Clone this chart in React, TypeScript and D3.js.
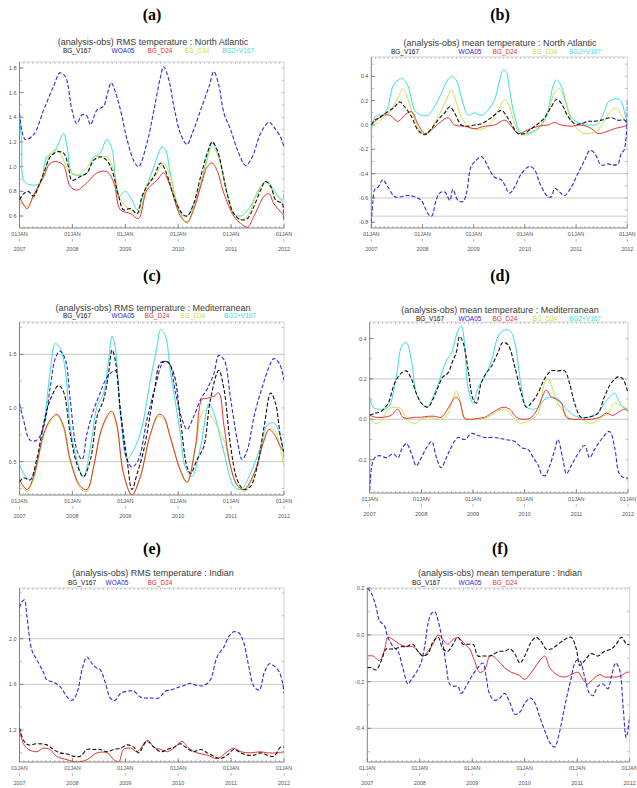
import React from "react";
import * as d3 from "d3";

type Pt = [number, number];

// Time axis: months since the first tick, one tick per year
const monthTicks = [0, 12, 24, 36, 48, 60];
const dateLabels = ["01JAN", "01JAN", "01JAN", "01JAN", "01JAN", "01JAN"];
const yearLabels = ["2007", "2008", "2009", "2010", "2011", "2012"];

const seriesNames = ["BG_V167", "WOA05", "BG_D24", "BG_D34", "BG2+V167"];

// ---- North Atlantic, RMS ----
const naRmsV167: Pt[] = [[0,0.73],[0.9,0.78],[2,0.80],[3.2,0.76],[4.3,0.84],[5.5,0.95],[7,1.08],[8.5,1.12],[10,1.11],[11.1,1.0],[11.9,0.89],[13.8,0.92],[15.3,0.95],[16.8,1.05],[18.3,1.08],[19.8,1.05],[21,0.97],[22.5,0.76],[23.6,0.65],[25.2,0.66],[26.7,0.62],[27.8,0.76],[28.9,0.84],[30.5,0.92],[32,1.03],[32.7,1.0],[33.9,0.89],[35,0.76],[36.9,0.62],[38,0.60],[39.5,0.70],[41.1,0.92],[42.6,1.11],[43.7,1.20],[44.8,1.14],[46,0.97],[47.1,0.78],[48.6,0.62],[50.2,0.57],[51.7,0.58],[53.2,0.68],[54.7,0.81],[55.8,0.88],[57,0.84],[58.1,0.73],[59.6,0.70],[60,0.57]];
const naRmsWoa: Pt[] = [[0,1.43],[1.3,1.22],[3.2,1.26],[5.5,1.46],[7.7,1.65],[9.2,1.76],[10.4,1.73],[11.9,1.46],[13,1.35],[14.2,1.42],[15.3,1.41],[16.1,1.34],[17.6,1.46],[19.1,1.49],[19.8,1.57],[20.8,1.68],[21.7,1.61],[22.9,1.46],[24.4,1.22],[25.9,1.05],[27,1.0],[28.9,1.19],[30.5,1.46],[32,1.73],[32.7,1.81],[33.9,1.70],[35,1.49],[36.5,1.27],[38,1.18],[39.2,1.27],[41.1,1.46],[43,1.65],[44.1,1.77],[45.2,1.66],[46.4,1.43],[47.9,1.30],[49.4,1.14],[51.3,1.01],[52.8,1.08],[54.7,1.27],[56.6,1.36],[57.7,1.32],[59.2,1.24],[60,1.16]];
const naRmsD24: Pt[] = [[0,0.76],[1.7,0.66],[3.2,0.77],[5.5,0.92],[7,1.03],[8.5,1.04],[10,1.01],[11.5,0.84],[13,0.81],[15.3,0.87],[17.6,0.95],[19.8,0.96],[21.4,0.87],[22.9,0.65],[25.2,0.62],[27,0.58],[28.9,0.81],[31.2,0.89],[32.7,0.95],[34.2,0.84],[36.5,0.60],[38,0.55],[39.5,0.65],[41.1,0.84],[42.6,1.0],[43.7,1.03],[44.8,0.97],[46.4,0.78],[48.6,0.60],[50.2,0.54],[51.7,0.51],[53.2,0.60],[55.5,0.76],[56.6,0.78],[57.7,0.70],[59.6,0.62],[60,0.60]];
const naRmsD34: Pt[] = [[0,0.73],[1.7,0.68],[3.2,0.76],[5.5,0.92],[7,1.11],[8.5,1.14],[9.6,1.08],[11.5,0.95],[13,0.93],[15.3,0.99],[16.8,1.08],[18.3,1.08],[19.8,1.08],[21.4,0.97],[22.9,0.73],[25.2,0.65],[27,0.62],[28.9,0.85],[31.2,0.95],[32.7,1.03],[34.2,0.92],[36.5,0.62],[38,0.54],[39.5,0.68],[41.8,0.95],[43.7,1.16],[44.8,1.11],[46.4,0.89],[48.6,0.62],[50.2,0.57],[51.7,0.60],[53.9,0.78],[55.8,0.88],[57.3,0.81],[59.2,0.73],[60,0.70]];
const naRmsV2: Pt[] = [[0,1.43],[0.5,1.19],[1.1,0.88],[3.2,0.85],[4.7,0.87],[6.2,1.08],[7.7,1.11],[8.9,1.19],[10,1.27],[10.8,1.16],[11.9,0.95],[13.8,0.93],[15.3,0.95],[16.8,1.07],[18.3,1.11],[19.8,1.22],[21,1.14],[22.5,0.76],[24,0.80],[25.5,0.73],[26.7,0.65],[28.2,0.78],[30.5,1.0],[32.3,1.16],[33.1,1.14],[34.2,0.95],[36.5,0.62],[38,0.60],[40.3,0.76],[42.6,1.08],[43.7,1.19],[45.2,1.08],[47.1,0.78],[48.6,0.62],[50.2,0.60],[52.4,0.68],[54.7,0.84],[56.2,0.88],[57.7,0.81],[59.6,0.73],[60,0.78]];

// ---- North Atlantic, mean ----
const naMeanV167: Pt[] = [[0,0],[0.8,0.04],[2,0.06],[3.5,0.10],[5.5,0.15],[6.6,0.19],[7.8,0.15],[9.4,0.07],[10.9,-0.04],[12.5,-0.08],[14.1,-0.03],[15.6,0.04],[17.2,0.10],[18.4,0.15],[19.5,0.10],[21.1,0],[22.7,-0.01],[24.2,0],[25.8,0.01],[28.1,0.06],[30.5,0.12],[31.6,0.08],[32.8,0.01],[34.4,-0.07],[35.9,-0.07],[37.5,-0.03],[39.1,0.01],[40.6,0.06],[42.2,0.15],[43.4,0.21],[44.5,0.18],[46.1,0.07],[47.7,0.01],[49.2,0.01],[50.8,0.03],[52.3,0.03],[53.9,0.04],[56.3,0.06],[57.8,0.04],[59.4,0.04],[60,0]];
const naMeanWoa: Pt[] = [[0,-0.80],[0.4,-0.62],[0.8,-0.53],[1.6,-0.51],[2.7,-0.45],[3.9,-0.51],[5.5,-0.59],[7,-0.59],[8.6,-0.58],[10.2,-0.59],[11.7,-0.62],[13.3,-0.73],[14.1,-0.75],[15.2,-0.62],[16,-0.56],[17.2,-0.55],[18.4,-0.62],[19.1,-0.53],[20.3,-0.62],[21.5,-0.63],[22.3,-0.56],[23.4,-0.34],[24.6,-0.29],[25.8,-0.26],[26.6,-0.29],[27.3,-0.34],[28.9,-0.43],[30.5,-0.45],[32.4,-0.56],[33.6,-0.51],[35.2,-0.40],[37.1,-0.34],[38.3,-0.37],[39.5,-0.48],[41.4,-0.59],[42.2,-0.59],[43,-0.52],[44.1,-0.55],[45.3,-0.58],[46.9,-0.51],[48.4,-0.40],[50,-0.29],[51.2,-0.21],[52.3,-0.23],[53.9,-0.33],[55.5,-0.32],[56.6,-0.33],[57.8,-0.32],[58.6,-0.23],[59.2,-0.21],[59.8,-0.07],[60,0.2]];
const naMeanD24: Pt[] = [[0,0],[1.2,0.04],[2.7,0.08],[4.3,0.08],[6.3,0.03],[7.8,0.08],[9.4,0.11],[10.9,0.01],[12.5,-0.07],[14.1,-0.04],[16.4,0.03],[18,0.06],[19.5,0],[21.9,-0.01],[24.2,-0.03],[26.6,-0.01],[28.9,0],[31.3,0.04],[32.8,-0.01],[34.4,-0.07],[36.7,-0.04],[39.1,-0.01],[41.4,0],[43,0.02],[44.5,0],[46.9,-0.01],[49.2,0],[51.6,-0.03],[53.1,-0.07],[54.7,-0.06],[57,-0.03],[59.4,-0.01],[60,0]];
const naMeanD34: Pt[] = [[0,0],[1.2,0.01],[3.1,0.07],[4.7,0.12],[6.3,0.23],[7.4,0.30],[8.6,0.21],[10.2,0.04],[11.7,-0.06],[13.3,-0.07],[14.8,0.01],[16.4,0.12],[17.9,0.23],[18.8,0.29],[19.5,0.23],[21.1,0.07],[22.7,-0.01],[25,-0.04],[27.3,-0.01],[29.7,0.12],[31.3,0.21],[32.4,0.15],[33.6,0.01],[35.2,-0.08],[37.5,-0.07],[39.8,-0.01],[41.4,0.10],[43,0.27],[44.1,0.30],[45.3,0.21],[46.9,0.04],[49.2,-0.06],[50.8,-0.07],[53.1,-0.04],[54.7,0.04],[56.3,0.12],[57.4,0.14],[58.6,0.08],[60,0.01]];
const naMeanV2: Pt[] = [[0,-0.21],[0.2,-0.01],[1.2,0.08],[2.7,0.08],[3.9,0.15],[5.1,0.32],[6.3,0.37],[7.4,0.38],[8.6,0.32],[10.2,0.12],[11.7,0.08],[13.3,0.08],[14.8,0.15],[16.4,0.26],[17.9,0.37],[18.8,0.40],[19.9,0.37],[21.1,0.23],[22.7,0.08],[24.2,0.10],[25.8,0.08],[27.3,0.12],[28.9,0.21],[30.1,0.37],[30.9,0.45],[31.6,0.44],[32.4,0.29],[33.6,0.07],[35.2,-0.07],[37.5,-0.06],[39.8,0],[41.4,0.12],[42.6,0.32],[43.4,0.37],[44.5,0.32],[45.7,0.18],[46.9,0.06],[49.2,0.01],[50.8,0],[53.1,0.01],[54.7,0.12],[55.5,0.19],[56.6,0.21],[58.2,0.21],[59.4,0.10],[60,0]];

// ---- Mediterranean, RMS ----
const medRmsV167: Pt[] = [[0,0.31],[0.9,0.35],[2.4,0.33],[3.9,0.52],[5.5,0.86],[7,1.08],[8.9,1.21],[10,1.15],[11.5,0.76],[13,0.48],[14.5,0.36],[16.1,0.52],[17.6,0.92],[19.1,1.08],[20.2,1.32],[21,1.54],[21.7,1.45],[22.9,0.98],[24.4,0.52],[25.5,0.24],[26.7,0.39],[28.2,0.61],[30.5,1.14],[32,1.42],[33.5,1.43],[35,1.32],[36.5,0.89],[38,0.45],[38.8,0.39],[40.3,0.52],[41.8,0.64],[43.3,1.08],[45.2,1.35],[46.4,1.17],[47.9,0.64],[49.4,0.33],[50.9,0.24],[52.4,0.27],[53.9,0.45],[55.5,0.83],[57,1.14],[58.1,1.04],[59.2,0.73],[60,0.59]];
const medRmsWoa: Pt[] = [[0,1.04],[0.9,0.89],[2.4,0.70],[3.9,0.70],[5.5,0.83],[7,1.20],[8.1,1.46],[9.2,1.53],[10.4,1.45],[11.5,1.08],[13,0.61],[14.2,0.52],[15.3,0.76],[16.8,0.98],[18.3,1.14],[19.5,1.26],[20.6,1.32],[21.7,1.35],[22.9,0.95],[24.4,0.52],[25.5,0.45],[27,0.52],[28.9,0.89],[30.8,1.20],[32.7,1.43],[33.9,1.42],[35.4,1.14],[36.9,0.89],[38,0.80],[39.5,0.92],[41.1,1.08],[42.6,1.18],[44.1,1.32],[45.2,1.49],[46.4,1.45],[47.9,1.08],[49.4,0.70],[50.5,0.52],[51.7,0.61],[53.2,0.92],[55.1,1.20],[57,1.42],[57.7,1.46],[58.9,1.42],[60,1.26]];
const medRmsD24: Pt[] = [[0,0.33],[1.7,0.24],[3.2,0.36],[5.5,0.76],[7,0.89],[8.5,0.94],[10,0.83],[11.5,0.52],[13.8,0.27],[15.3,0.24],[16.8,0.45],[18.3,0.76],[19.8,0.92],[20.9,0.97],[22,0.86],[23.6,0.39],[25.5,0.19],[27.4,0.36],[29.7,0.76],[31.6,0.94],[32.7,0.92],[34.2,0.73],[36.5,0.42],[38,0.31],[39.9,0.64],[41.4,1.08],[42.5,1.09],[44.1,1.11],[45.2,1.14],[46.4,0.83],[47.9,0.45],[49.4,0.28],[50.9,0.24],[53.2,0.39],[55.5,0.70],[56.6,0.80],[57.7,0.76],[59.2,0.64],[60,0.59]];
const medRmsD34: Pt[] = [[0,0.30],[1.7,0.22],[3.2,0.34],[5.5,0.75],[7,0.87],[8.5,0.93],[10,0.80],[11.5,0.50],[13.8,0.25],[15.3,0.22],[16.8,0.44],[18.3,0.75],[19.8,0.90],[20.9,0.95],[22,0.84],[23.6,0.38],[25.5,0.19],[27.4,0.35],[29.7,0.75],[31.6,0.92],[32.7,0.90],[34.2,0.72],[36.5,0.41],[38,0.30],[39.9,0.62],[41.4,0.95],[42.5,0.98],[44.1,0.88],[45.2,0.80],[46.4,0.70],[47.9,0.45],[49.4,0.27],[50.9,0.22],[53.2,0.38],[55.5,0.72],[56.6,0.80],[57.7,0.80],[59.2,0.62],[60,0.45]];
const medRmsV2: Pt[] = [[0,0.48],[0.9,0.39],[2.4,0.33],[3.9,0.48],[5.5,0.83],[7,1.35],[8.1,1.60],[9.2,1.56],[10.4,1.35],[11.5,0.83],[13,0.52],[14.5,0.35],[16.1,0.64],[17.6,1.01],[19.1,1.14],[20.2,1.45],[21,1.67],[21.7,1.57],[22.9,0.95],[24.4,0.52],[25.5,0.58],[27.4,0.76],[29.7,1.26],[31.2,1.57],[32,1.73],[33.1,1.67],[34.2,1.35],[36.5,0.76],[37.6,0.45],[39.1,0.36],[41.1,0.64],[43,1.04],[44.1,0.95],[46.4,0.58],[48.6,0.27],[50.2,0.24],[52.4,0.39],[54.7,0.64],[56.2,0.84],[57.7,0.86],[59.2,0.73],[60,0.52]];

// ---- Mediterranean, mean ----
const medMeanV167: Pt[] = [[0,0.02],[1.2,0.03],[2.7,0.04],[4.3,0.08],[5.8,0.18],[7.4,0.23],[8.5,0.24],[9.7,0.20],[10.8,0.13],[12,0.08],[13.5,0.06],[14.7,0.10],[15.9,0.16],[17,0.21],[18.2,0.23],[19.3,0.29],[20.1,0.33],[20.9,0.41],[21.7,0.38],[22.9,0.24],[24,0.10],[24.8,0.08],[25.9,0.18],[27.1,0.23],[28.2,0.26],[29.8,0.33],[30.9,0.38],[32.1,0.37],[33.7,0.26],[35.2,0.13],[36.4,0.06],[37.5,0.08],[39.1,0.13],[40.6,0.20],[42.2,0.24],[43.7,0.24],[45.3,0.24],[46.4,0.18],[47.6,0.08],[49.1,0.01],[50.7,0.01],[53,0.03],[54.5,0.11],[56.1,0.18],[57.7,0.21],[58.8,0.20],[60,0.13]];
const medMeanWoa: Pt[] = [[0,-0.35],[0.5,-0.23],[1.2,-0.19],[2.3,-0.18],[3.9,-0.19],[5.4,-0.17],[6.6,-0.19],[7.4,-0.15],[8.5,-0.12],[9.7,-0.17],[10.8,-0.23],[12,-0.19],[13.2,-0.14],[14.4,-0.11],[15.5,-0.19],[16.6,-0.24],[17.8,-0.19],[18.9,-0.14],[20.5,-0.09],[22.1,-0.10],[23.6,-0.07],[25.2,-0.08],[26.7,-0.09],[29,-0.09],[31.4,-0.10],[33.7,-0.11],[35.3,-0.14],[36.8,-0.15],[38,-0.19],[39.2,-0.23],[39.9,-0.27],[40.7,-0.28],[41.8,-0.23],[43,-0.15],[43.7,-0.10],[44.9,-0.20],[45.7,-0.27],[46.8,-0.23],[48.4,-0.17],[49.9,-0.13],[51.1,-0.19],[52.2,-0.15],[53.8,-0.10],[55.7,-0.06],[56.9,-0.14],[58,-0.27],[59.2,-0.29],[60,-0.29]];
const medMeanD24: Pt[] = [[0,0.02],[1.5,0.01],[3.1,0.01],[5,0.02],[6.5,0.05],[7.7,0.01],[8.9,0.005],[10.4,0.01],[12,0.01],[13.5,0.015],[15.1,0.015],[16.6,0.01],[17.8,0.04],[18.9,0.08],[20,0.11],[20.9,0.09],[22.1,0.005],[23.6,0],[25.2,0.005],[26.7,0.01],[28.3,0.03],[29.8,0.05],[31,0.06],[32.5,0.05],[34.1,0.01],[35.6,0],[37.2,0.005],[38.7,0.04],[39.9,0.10],[41,0.145],[42.2,0.11],[43.3,0.10],[44.5,0.08],[45.7,0.01],[47.2,0],[49.2,0],[51.5,0],[53.4,0.01],[55,0.03],[56.5,0.02],[58.1,0.04],[59.2,0.05],[60,0.04]];
const medMeanD34: Pt[] = [[0,0.01],[1.2,-0.02],[2.7,-0.01],[4.3,0.05],[5.8,0.06],[7.4,0.05],[8.5,0],[10.4,-0.02],[12,0],[13.5,0.01],[15.1,0.005],[16.6,0],[18.2,0.03],[19.3,0.10],[20.1,0.14],[20.9,0.10],[22.1,0],[23.6,0],[26.7,0.005],[29,0.03],[30.6,0.05],[32.1,0.04],[33.7,0],[35.2,-0.02],[37.5,0],[39.1,0.03],[40.6,0.18],[41.4,0.20],[42.6,0.145],[43.7,0.08],[45.3,0.03],[46.8,0],[49.1,0],[51.5,-0.02],[53.4,0.005],[55.3,0.03],[56.9,0.08],[58,0.07],[59.2,0.06],[60,0.05]];
const medMeanV2: Pt[] = [[0,0.11],[0.8,0.06],[2.3,0.05],[4.3,0.06],[6.3,0.23],[7.4,0.36],[8.5,0.38],[9.7,0.29],[10.8,0.13],[12,0.08],[13.5,0.06],[14.7,0.11],[16.3,0.20],[17.8,0.29],[19,0.33],[19.7,0.38],[20.5,0.44],[21.3,0.46],[22.1,0.36],[22.8,0.16],[24,0.08],[25.2,0.16],[26.7,0.21],[28.3,0.29],[29.8,0.41],[31,0.44],[32.5,0.44],[33.7,0.38],[35.2,0.16],[36.4,0.06],[38,0.05],[39.2,0.06],[40.7,0.10],[42.2,0.11],[43.8,0.10],[45.3,0.06],[46.8,0.03],[48.4,0.01],[50.7,0.01],[53,0.03],[54.5,0.08],[55.7,0.11],[56.9,0.13],[57.7,0.10],[58.8,0.06],[60,0.05]];

// ---- Indian, RMS ----
const indRmsV167: Pt[] = [[0,1.22],[0.9,1.11],[2,1.07],[3.9,1.08],[6.2,1.07],[7.7,1.03],[9.2,1.0],[10.8,0.99],[12.3,0.97],[13.8,0.97],[15.3,1.03],[16.8,1.03],[18.3,1.03],[19.8,1.01],[21.4,1.03],[22.9,1.04],[24.4,1.07],[25.9,1.05],[27,1.0],[28.9,1.10],[30.5,1.05],[32,1.01],[33.5,1.03],[35,1.05],[36.5,1.08],[38,1.04],[39.5,1.01],[41.1,1.03],[42.6,1.0],[44.1,0.97],[45.6,0.95],[47.1,0.98],[48.6,1.03],[50.2,1.0],[51.7,0.98],[53.2,0.98],[54.7,1.0],[56.2,0.98],[57.7,0.97],[59.2,1.05],[60,1.05]];
const indRmsWoa: Pt[] = [[0,2.27],[0.5,2.32],[1.1,2.34],[1.7,2.19],[2.8,1.90],[4,1.81],[5.5,1.70],[6.2,1.64],[7.7,1.62],[9.2,1.58],[10.8,1.49],[11.9,1.46],[13,1.52],[14.2,1.73],[15.3,1.84],[16.5,1.78],[17.6,1.74],[18.3,1.73],[19.5,1.61],[20.6,1.48],[21.7,1.46],[22.9,1.52],[24.4,1.54],[25.9,1.54],[27.4,1.49],[28.5,1.48],[30,1.48],[31.6,1.48],[33.1,1.54],[34.2,1.55],[35.8,1.57],[37.3,1.59],[38.8,1.61],[40.3,1.59],[41.8,1.59],[43.3,1.64],[44.8,1.84],[46.4,1.93],[47.5,2.02],[48.6,2.06],[49.8,2.05],[50.9,1.96],[52,1.76],[53.2,1.58],[54.4,1.55],[55.5,1.70],[56.7,1.78],[57.8,1.76],[58.9,1.71],[59.7,1.61],[60,1.52]];
const indRmsD24: Pt[] = [[0,1.20],[0.9,1.08],[2,1.03],[3.9,1.01],[5.4,1.04],[6.9,1.03],[8.4,0.97],[10.8,0.94],[13,0.92],[15.3,0.94],[17.6,1.0],[19.9,1.0],[21.4,0.94],[22.5,0.92],[23.6,1.03],[25.2,1.04],[26.7,1.01],[29,1.11],[30.5,1.05],[32,1.03],[33.5,1.01],[35,1.04],[36.9,1.10],[38.4,1.04],[40.3,1.0],[42.6,0.98],[44.9,0.95],[47.1,1.01],[48.6,1.04],[50.2,1.01],[52.4,1.0],[54.7,1.01],[56.2,1.0],[58.5,1.0],[60,1.01]];

// ---- Indian, mean ----
const indMeanV167: Pt[] = [[0,-0.14],[0.9,-0.14],[2,-0.15],[3.2,-0.11],[4.3,-0.06],[5.1,-0.06],[6.2,-0.06],[7.8,-0.05],[8.9,-0.05],[10.4,-0.04],[11.6,-0.07],[12.7,-0.09],[13.9,-0.08],[15,-0.03],[16.2,-0.01],[17.3,-0.06],[18.4,-0.07],[19.6,-0.04],[20.7,-0.01],[21.9,-0.04],[23,-0.04],[24.2,-0.04],[25.3,-0.09],[26.5,-0.09],[28,-0.09],[29.1,-0.08],[30.3,-0.07],[31.4,-0.07],[32.6,-0.06],[33.7,-0.08],[34.9,-0.12],[36,-0.09],[37.5,-0.03],[38.6,-0.01],[39.8,-0.03],[40.9,-0.06],[42.1,-0.06],[43.6,-0.04],[45.1,-0.02],[46.6,-0.01],[47.8,-0.06],[48.6,-0.13],[49.7,-0.11],[51.2,-0.08],[52.7,-0.09],[54.3,-0.07],[55.8,-0.06],[56.9,-0.04],[58.1,-0.01],[59.3,-0.04],[60,-0.04]];
const indMeanWoa: Pt[] = [[0,0.20],[0.9,0.18],[2,0.12],[2.8,0.06],[3.9,0.04],[4.7,-0.01],[5.9,-0.05],[7,-0.07],[8.1,-0.14],[9.3,-0.21],[10.1,-0.19],[11.2,-0.16],[12.3,-0.12],[13.1,-0.05],[13.9,0.05],[14.6,0.09],[15.4,0.10],[16.2,0.06],[17.3,-0.04],[18.1,-0.14],[18.8,-0.21],[19.6,-0.22],[20.7,-0.22],[21.5,-0.25],[22.6,-0.22],[23.8,-0.18],[25.3,-0.14],[26.4,-0.12],[27.2,-0.18],[27.9,-0.25],[29.1,-0.28],[30.3,-0.27],[31.4,-0.25],[32.6,-0.29],[33.8,-0.34],[34.9,-0.33],[36.1,-0.29],[37.3,-0.27],[38.3,-0.29],[39.4,-0.35],[40.6,-0.41],[41.7,-0.46],[42.8,-0.48],[43.9,-0.42],[45.1,-0.31],[46.3,-0.21],[47.8,-0.11],[48.6,-0.11],[49.7,-0.18],[50.8,-0.25],[51.6,-0.26],[52.7,-0.22],[53.9,-0.21],[55,-0.23],[55.8,-0.18],[56.8,-0.12],[57.7,-0.15],[58.5,-0.31],[59.2,-0.44],[60,-0.35]];
const indMeanD24: Pt[] = [[0,-0.09],[1.3,-0.09],[2.8,-0.11],[4,-0.06],[4.7,-0.01],[5.9,-0.02],[7.4,-0.04],[8.9,-0.05],[10.4,-0.05],[11.6,-0.07],[12.7,-0.09],[13.9,-0.07],[15,-0.04],[16.2,0],[17.3,-0.02],[18.4,-0.04],[19.6,-0.02],[20.7,-0.01],[22.3,-0.04],[23.4,-0.06],[24.5,-0.11],[25.7,-0.16],[26.8,-0.15],[28,-0.09],[28.7,-0.09],[29.9,-0.11],[31.4,-0.14],[32.9,-0.16],[34.5,-0.17],[36,-0.19],[37.1,-0.17],[38.3,-0.14],[39.4,-0.11],[40.6,-0.09],[41.7,-0.14],[43.3,-0.17],[45.1,-0.18],[46.6,-0.17],[48.2,-0.16],[49.3,-0.19],[50.4,-0.21],[51.6,-0.19],[53.1,-0.17],[54.3,-0.18],[55.4,-0.18],[56.9,-0.18],[58.5,-0.17],[59.2,-0.16],[60,-0.16]];

const COLORS = ["#111111", "#2b2bd6", "#e03232", "#c6e24e", "#3adcdc"];
const DASHES = ["4 2", "4 2", null, null, null];
// Drawing order: lighter lines first, dashed black/blue on top
const DRAW_ORDER = [4, 3, 2, 1, 0];

type Panel = {
  letter: string;
  letterX: number;
  letterY: number;
  title: string;
  titleX: number;
  titleY: number;
  legendY: number;
  legendX: number[];
  x0: number; x1: number; y0: number; y1: number;
  yDomain: [number, number];
  yTicks: number[];
  yMinor: number;
  grid: number[];
  series: (Pt[] | null)[];
};

const panels: Panel[] = [
  {
    letter: "(a)", letterX: 152, letterY: 20,
    title: "(analysis-obs) RMS temperature : North Atlantic", titleX: 153, titleY: 45,
    legendY: 52.5, legendX: [77, 123, 160, 197, 238],
    x0: 19.5, x1: 284, y0: 62, y1: 228,
    yDomain: [0.503, 1.848], yTicks: [0.6, 0.8, 1.0, 1.2, 1.4, 1.6, 1.8], yMinor: 0.1, grid: [],
    series: [naRmsV167, naRmsWoa, naRmsD24, naRmsD34, naRmsV2],
  },
  {
    letter: "(b)", letterX: 500, letterY: 20,
    title: "(analysis-obs) mean temperature : North Atlantic", titleX: 500, titleY: 46,
    legendY: 53.5, legendX: [405, 470, 505, 545, 585],
    x0: 371.3, x1: 627.3, y0: 57, y1: 228,
    yDomain: [-0.847, 0.559], yTicks: [-0.8, -0.6, -0.4, -0.2, 0.0, 0.2, 0.4], yMinor: 0.1, grid: [-0.4, -0.6, -0.75],
    series: [naMeanV167, naMeanWoa, naMeanD24, naMeanD34, naMeanV2],
  },
  {
    letter: "(c)", letterX: 152, letterY: 281,
    title: "(analysis-obs) RMS temperature : Mediterranean", titleX: 153, titleY: 311,
    legendY: 317.5, legendX: [77, 123, 157, 193, 240],
    x0: 19.5, x1: 284, y0: 322, y1: 495,
    yDomain: [0.189, 1.801], yTicks: [0.5, 1.0, 1.5], yMinor: 0.25, grid: [0.5, 1.5],
    series: [medRmsV167, medRmsWoa, medRmsD24, medRmsD34, medRmsV2],
  },
  {
    letter: "(d)", letterX: 500, letterY: 281,
    title: "(analysis-obs) mean temperature : Mediterranean", titleX: 500, titleY: 313,
    legendY: 320.5, legendX: [430, 470, 505, 545, 585],
    x0: 369.7, x1: 628, y0: 322, y1: 493,
    yDomain: [-0.365, 0.482], yTicks: [-0.2, 0.0, 0.2, 0.4], yMinor: 0.1, grid: [0.0, 0.2],
    series: [medMeanV167, medMeanWoa, medMeanD24, medMeanD34, medMeanV2],
  },
  {
    letter: "(e)", letterX: 152, letterY: 554,
    title: "(analysis-obs) RMS temperature : Indian", titleX: 153, titleY: 576,
    legendY: 584.5, legendX: [82, 117, 160],
    x0: 19.5, x1: 284, y0: 588, y1: 762,
    yDomain: [0.92, 2.444], yTicks: [1.2, 1.6, 2.0], yMinor: 0.2, grid: [1.6, 2.0],
    series: [indRmsV167, indRmsWoa, indRmsD24, null, null],
  },
  {
    letter: "(f)", letterX: 500, letterY: 554,
    title: "(analysis-obs) mean temperature : Indian", titleX: 500, titleY: 576,
    legendY: 584.5, legendX: [426, 470, 505],
    x0: 367.3, x1: 629.7, y0: 588, y1: 762,
    yDomain: [-0.544, 0.201], yTicks: [-0.4, -0.2, 0.0, 0.2], yMinor: 0.1, grid: [0.0, -0.2, -0.4],
    series: [indMeanV167, indMeanWoa, indMeanD24, null, null],
  },
];

const fmt = (v: number) => (Math.abs(v) < 1e-9 ? "0.0" : v.toFixed(1));

function ChartPanel({ p, idx }: { p: Panel; idx: number }) {
  const x = d3.scaleLinear().domain([0, 60]).range([p.x0, p.x1]);
  const y = d3.scaleLinear().domain(p.yDomain).range([p.y1, p.y0]);
  const line = d3
    .line<Pt>()
    .x((d) => x(d[0]))
    .y((d) => y(d[1]))
    .curve(d3.curveCatmullRom.alpha(0.5));
  const clipId = `clip-${idx}`;
  const minorY = d3
    .range(Math.ceil(p.yDomain[0] / p.yMinor) * p.yMinor, p.yDomain[1], p.yMinor)
    .filter((v) => v > p.yDomain[0] && v < p.yDomain[1]);
  const minorX = d3.range(1, 60, 1);
  const sansFont = "'Liberation Sans', Arial, sans-serif";

  return (
    <g>
      <text x={p.letterX} y={p.letterY} textAnchor="middle" fontFamily="'Liberation Serif', 'Times New Roman', serif" fontWeight="bold" fontSize={16} fill="#000">
        {p.letter}
      </text>
      <text x={p.titleX} y={p.titleY} textAnchor="middle" fontFamily={sansFont} fontSize={9} fill="#3a3a3a">
        {p.title}
      </text>
      {p.series.map((s, i) =>
        s && p.legendX[i] !== undefined ? (
          <text key={`lg${i}`} x={p.legendX[i]} y={p.legendY} textAnchor="middle" fontFamily={sansFont} fontSize={6.5} fill={COLORS[i]}>
            {seriesNames[i]}
          </text>
        ) : null
      )}
      <defs>
        <clipPath id={clipId}>
          <rect x={p.x0} y={p.y0} width={p.x1 - p.x0} height={p.y1 - p.y0} />
        </clipPath>
      </defs>
      {/* grid lines */}
      {p.grid.map((g) => (
        <line key={`g${g}`} x1={p.x0} x2={p.x1} y1={y(g)} y2={y(g)} stroke="#c4c4c4" strokeWidth={0.9} />
      ))}
      {/* frame */}
      <line x1={p.x0} x2={p.x1} y1={p.y0} y2={p.y0} stroke="#c8c8c8" strokeWidth={0.8} />
      <line x1={p.x1} x2={p.x1} y1={p.y0} y2={p.y1} stroke="#c8c8c8" strokeWidth={0.8} />
      <line x1={p.x0} x2={p.x0} y1={p.y0} y2={p.y1} stroke="#777" strokeWidth={0.9} />
      <line x1={p.x0} x2={p.x1} y1={p.y1} y2={p.y1} stroke="#777" strokeWidth={0.9} />
      {/* minor ticks along top and bottom */}
      {minorX.map((m) => (
        <g key={`mx${m}`}>
          <line x1={x(m)} x2={x(m)} y1={p.y0} y2={p.y0 + 2} stroke="#aaa" strokeWidth={0.7} />
          <line x1={x(m)} x2={x(m)} y1={p.y1} y2={p.y1 - 2} stroke="#999" strokeWidth={0.7} />
        </g>
      ))}
      {/* minor ticks along left and right */}
      {minorY.map((v, i) => (
        <g key={`my${i}`}>
          <line x1={p.x0} x2={p.x0 + 2.5} y1={y(v)} y2={y(v)} stroke="#999" strokeWidth={0.7} />
          <line x1={p.x1} x2={p.x1 - 2.5} y1={y(v)} y2={y(v)} stroke="#aaa" strokeWidth={0.7} />
        </g>
      ))}
      {/* y tick labels */}
      {p.yTicks.map((t) => (
        <g key={`yt${t}`}>
          <line x1={p.x0} x2={p.x0 + 4} y1={y(t)} y2={y(t)} stroke="#777" strokeWidth={0.8} />
          <text x={p.x0 - 3} y={y(t) + 2} textAnchor="end" fontFamily={sansFont} fontSize={5.5} fill="#555">
            {fmt(t)}
          </text>
        </g>
      ))}
      {/* x tick labels */}
      {monthTicks.map((m, i) => (
        <g key={`xt${m}`}>
          <line x1={x(m)} x2={x(m)} y1={p.y1} y2={p.y1 - 4} stroke="#777" strokeWidth={0.8} />
          <text x={x(m)} y={p.y1 + 7.5} textAnchor="middle" fontFamily={sansFont} fontSize={5.5} fill="#555">
            {dateLabels[i]}
          </text>
          <line x1={x(m)} x2={x(m)} y1={p.y1 + 11} y2={p.y1 + 14} stroke="#999" strokeWidth={0.6} />
          <text x={x(m)} y={p.y1 + 22.5} textAnchor="middle" fontFamily={sansFont} fontSize={5.5} fill="#555">
            {yearLabels[i]}
          </text>
        </g>
      ))}
      {/* series */}
      <g clipPath={`url(#${clipId})`}>
        {DRAW_ORDER.map((i) => {
          const s = p.series[i];
          if (!s) return null;
          return (
            <path
              key={`s${i}`}
              d={line(s) ?? ""}
              fill="none"
              stroke={COLORS[i]}
              strokeWidth={i <= 1 ? 1.1 : 1}
              strokeDasharray={DASHES[i] ?? undefined}
            />
          );
        })}
      </g>
    </g>
  );
}

export default function App() {
  return (
    <svg
      width={637}
      height={788}
      viewBox="0 0 637 788"
      style={{ position: "absolute", left: 0, top: 0, background: "#fff" }}
    >
      <rect x={0} y={0} width={637} height={788} fill="#fff" />
      {panels.map((p, i) => (
        <ChartPanel key={p.letter} p={p} idx={i} />
      ))}
    </svg>
  );
}
